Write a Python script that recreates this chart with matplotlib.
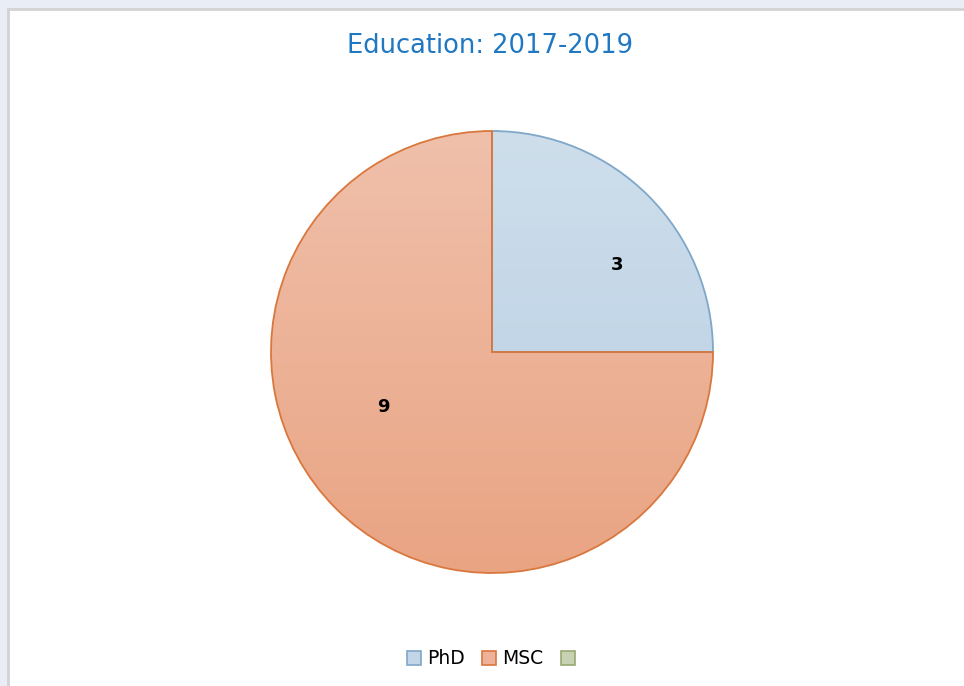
import numpy as np
import matplotlib.pyplot as plt
from matplotlib.patches import Patch, Rectangle
from matplotlib.colors import LinearSegmentedColormap, to_rgb

plt.rcParams['font.family'] = ['DejaVu Sans']

# Education counts
categories = ['PhD', 'MSC', '']
counts = [3, 9, 0]

# top / bottom gradient colours for each slice, plus edge colours
grad_top = ['#CEDEEB', '#F0C0AB', '#D5DCC4']
grad_bottom = ['#B7CEE4', '#E9A483', '#BCC6A2']
edge_colors = ['#7FA7C9', '#D9773D', '#9AA874']

fig = plt.figure(figsize=(9.64, 6.86), dpi=100)
fig.patch.set_facecolor('#E9EEF6')

# white chart panel with a light grey border
W, H = 964, 686
panel = Rectangle((8 / W, -0.05), 1.1, 1 - 9 / H + 0.05, transform=fig.transFigure,
                  facecolor='white', edgecolor='#D3D3D3', linewidth=2, zorder=-5)
fig.patches.append(panel)

fig.text(490 / W, 1 - 46 / H, 'Education: 2017-2019', ha='center', va='center',
         fontsize=18.5, color='#1F78C1')

R = 221
lim = 1.03
ax = fig.add_axes([(492 - R * lim) / W, (H - 352 - R * lim) / H, 2 * R * lim / W, 2 * R * lim / H])
ax.set_zorder(2)
ax.axis('off')

nz = [i for i, v in enumerate(counts) if v > 0]
wedges, texts, autotexts = ax.pie(
    [counts[i] for i in nz], startangle=90, counterclock=False, radius=1,
    colors=[grad_bottom[i] for i in nz],
    wedgeprops=dict(edgecolor='none'),
    autopct=lambda p: '{:.0f}'.format(p * sum(counts) / 100),
    textprops=dict(fontsize=13, fontweight='bold', color='black'))

# vertical gradient fill clipped to each slice, then outline
for w, i in zip(wedges, nz):
    cmap = LinearSegmentedColormap.from_list('g%d' % i, [grad_bottom[i], grad_top[i]])
    grad = np.linspace(0, 1, 256).reshape(-1, 1)
    im = ax.imshow(grad, cmap=cmap, extent=(-1, 1, -1, 1), origin='lower',
                   aspect='auto', zorder=1)
    im.set_clip_path(w)
    w.set_facecolor('none')
    w.set_edgecolor(edge_colors[i])
    w.set_linewidth(1.3)
    w.set_zorder(2)
ax.set_xlim(-lim, lim)
ax.set_ylim(-lim, lim)

# shift value labels inside slices
label_pos = {0: (35, 0.69), 1: (207, 0.55)}
for t, i in zip(autotexts, nz):
    ang, r = label_pos[i]
    t.set_position((r * np.cos(np.radians(ang)), r * np.sin(np.radians(ang))))
    t.set_zorder(3)


def mid(c1, c2):
    return tuple((a + b) / 2 for a, b in zip(to_rgb(c1), to_rgb(c2)))


handles = [Patch(facecolor=mid(grad_top[i], grad_bottom[i]), edgecolor=edge_colors[i],
                 linewidth=1.2, label=categories[i])
           for i in range(len(categories))]
fig.legend(handles=handles, loc='center', bbox_to_anchor=(494 / W, 1 - 659 / H), ncol=3,
           frameon=False, fontsize=13.5, handlelength=0.75, handleheight=0.75,
           handletextpad=0.35, columnspacing=0.9)

fig.savefig('out.png', dpi=100, facecolor=fig.get_facecolor())
